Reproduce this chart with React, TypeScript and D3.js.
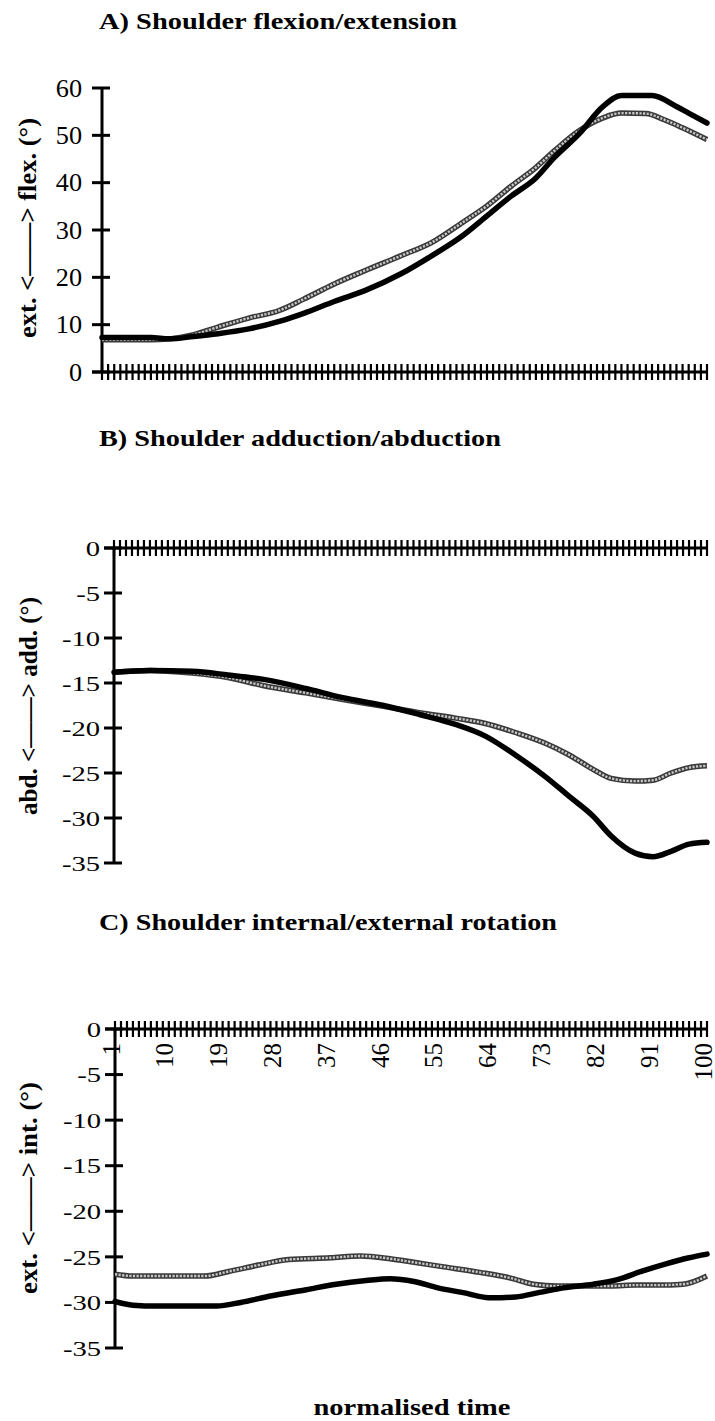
import React from 'react';
import * as d3 from 'd3';

// ---------- DATA ----------
// Panel A: Shoulder flexion/extension
const timeA1 = [1, 9, 12, 16, 20, 25, 30, 34, 39, 44, 50, 55, 60, 64, 68, 72, 75, 79, 83, 86, 91, 95, 97, 100];
const flexBlack = [7.3, 7.3, 7.0, 7.5, 8.1, 9.1, 10.7, 12.4, 14.9, 17.2, 20.8, 24.6, 28.8, 33, 37.2, 41, 45.3, 50.2, 56.1, 58.4, 58.4, 56.1, 54.7, 52.6];
const timeA2 = [1, 9, 12, 16, 20, 25, 30, 34, 39, 44, 50, 55, 60, 64, 68, 72, 75, 79, 83, 86, 90, 93, 96, 100];
const flexGrey = [6.8, 6.8, 7.0, 7.9, 9.5, 11.4, 13, 15.4, 18.6, 21.4, 24.6, 27.4, 31.6, 35.1, 39.3, 43.2, 46.7, 50.9, 53.7, 54.7, 54.6, 53.3, 51.6, 49.1];

// Panel B: Shoulder adduction/abduction
const timeB = [1, 7, 14, 20, 26, 33, 39, 46, 52, 58, 63, 68, 73, 77, 81, 84, 88, 91, 94, 97, 100];
const abdBlack = [-13.8, -13.6, -13.7, -14.1, -14.6, -15.6, -16.6, -17.5, -18.5, -19.6, -20.9, -23, -25.4, -27.6, -29.8, -32, -33.9, -34.3, -33.7, -32.9, -32.7];
const abdGrey = [-13.8, -13.6, -13.9, -14.4, -15.3, -16.1, -16.8, -17.6, -18.3, -18.9, -19.5, -20.5, -21.7, -23, -24.6, -25.6, -25.9, -25.8, -25, -24.4, -24.2];

// Panel C: Shoulder internal/external rotation
const timeC1 = [1, 4, 8, 18, 22, 27, 33, 38, 43, 47, 51, 55, 59, 64, 68, 72, 76, 81, 85, 89, 93, 97, 100];
const rotBlack = [-29.9, -30.3, -30.4, -30.4, -30, -29.3, -28.6, -28, -27.6, -27.4, -27.7, -28.4, -28.9, -29.5, -29.4, -28.9, -28.4, -28, -27.5, -26.6, -25.8, -25.1, -24.7];
const timeC2 = [1, 4, 16, 20, 25, 30, 37, 42, 47, 51, 56, 62, 67, 71, 75, 79, 84, 88, 92, 96, 100];
const rotGrey = [-26.9, -27.1, -27.1, -26.6, -25.9, -25.3, -25.1, -24.9, -25.2, -25.6, -26.1, -26.7, -27.3, -28, -28.2, -28.2, -28.2, -28.1, -28.1, -28, -27.1];

const ticksA = [0, 10, 20, 30, 40, 50, 60];
const ticksBC = [0, -5, -10, -15, -20, -25, -30, -35];
const timeTickLabels = [1, 10, 19, 28, 37, 46, 55, 64, 73, 82, 91, 100];
const categories = d3.range(1, 101);

const titles = ['A) Shoulder flexion/extension', 'B) Shoulder adduction/abduction', 'C) Shoulder internal/external rotation'];
const yTitles = ['ext. <——> flex. (°)', 'abd. <——> add. (°)', 'ext. <——> int. (°)'];
const xTitle = 'normalised time';

const serif = "'Liberation Serif', 'DejaVu Serif', serif";

type PanelCfg = {
  x0: number; x1: number; yTop: number; yBot: number;
  domain: [number, number]; ticks: number[];
  series: { t: number[]; v: number[]; grey: boolean }[];
  title: string; titleY: number; titleLen: number;
  yTitle: string; yTitleX: number; yTitleY: number; yTitleLen: number;
  labelSize: number; labelScale: number; labelGap: number; showTimeLabels: boolean;
};

function Panel({ cfg }: { cfg: PanelCfg }) {
  const x = d3.scalePoint<number>().domain(categories).range([cfg.x0, cfg.x1]);
  const y = d3.scaleLinear().domain(cfg.domain).range([cfg.yBot, cfg.yTop]);
  const line = d3.line<[number, number]>().x(d => x(d[0]) as number).y(d => y(d[1])).curve(d3.curveMonotoneX);
  const y0 = y(0);
  return (
    <g>
      <text x={99} y={cfg.titleY} fontFamily={serif} fontWeight="bold" fontSize={24}
        textLength={cfg.titleLen} lengthAdjust="spacingAndGlyphs">{cfg.title}</text>
      <text transform={`translate(${cfg.yTitleX},${cfg.yTitleY}) scale(1.25,1) rotate(-90)`} textAnchor="middle"
        fontFamily={serif} fontWeight="bold" fontSize={20} textLength={cfg.yTitleLen} lengthAdjust="spacingAndGlyphs">{cfg.yTitle}</text>
      {/* y axis */}
      <line x1={cfg.x0} x2={cfg.x0} y1={y(cfg.domain[1]) - 1} y2={y(cfg.domain[0]) + 1} stroke="#000" strokeWidth={3} />
      {cfg.ticks.map(t => (
        <g key={t}>
          <line x1={cfg.x0 - 10} x2={cfg.x0 + 8} y1={y(t)} y2={y(t)} stroke="#000" strokeWidth={3} />
          <text transform={`translate(${cfg.x0 - cfg.labelGap},${y(t)}) scale(${cfg.labelScale},1)`} dy="0.35em" textAnchor="end"
            fontFamily={serif} fontSize={cfg.labelSize}>{t}</text>
        </g>
      ))}
      {/* x axis at value 0 */}
      <line x1={cfg.x0 - 10} x2={cfg.x1 + 1} y1={y0} y2={y0} stroke="#000" strokeWidth={3} />
      {categories.map(c => (
        <line key={c} x1={x(c)} x2={x(c)} y1={y0 - 8} y2={y0 + 8} stroke="#000" strokeWidth={2.2} />
      ))}
      {cfg.showTimeLabels && timeTickLabels.map(c => (
        <text key={c} transform={`translate(${(x(c) as number) - 3},${y0 + 14}) rotate(-90)`} dy="0.3em" textAnchor="end"
          fontFamily={serif} fontSize={25}>{c}</text>
      ))}
      {cfg.series.map((s, i) => {
        const pts = s.t.map((t, k) => [t, s.v[k]] as [number, number]);
        const d = line(pts) || '';
        return s.grey ? (
          <g key={i}>
            <path d={d} fill="none" stroke="#3a3a3a" strokeWidth={5.5} strokeLinejoin="round" />
            <path d={d} fill="none" stroke="#c8c8c8" strokeWidth={2.4} strokeDasharray="2.2 1.4" />
          </g>
        ) : (
          <path key={i} d={d} fill="none" stroke="#000" strokeWidth={5.5} strokeLinejoin="round" strokeLinecap="round" />
        );
      })}
    </g>
  );
}

export default function App() {
  const panels: PanelCfg[] = [
    {
      x0: 102, x1: 707, yTop: 88, yBot: 372, domain: [0, 60], ticks: ticksA,
      series: [{ t: timeA2, v: flexGrey, grey: true }, { t: timeA1, v: flexBlack, grey: false }],
      title: titles[0], titleY: 29, titleLen: 358,
      yTitle: yTitles[0], yTitleX: 36, yTitleY: 228, yTitleLen: 220,
      labelSize: 25, labelScale: 1.05, labelGap: 20, showTimeLabels: false,
    },
    {
      x0: 114, x1: 707, yTop: 548, yBot: 863, domain: [-35, 0], ticks: ticksBC,
      series: [{ t: timeB, v: abdGrey, grey: true }, { t: timeB, v: abdBlack, grey: false }],
      title: titles[1], titleY: 446, titleLen: 402,
      yTitle: yTitles[1], yTitleX: 37, yTitleY: 706, yTitleLen: 218,
      labelSize: 22, labelScale: 1.3, labelGap: 14, showTimeLabels: false,
    },
    {
      x0: 115, x1: 707, yTop: 1029, yBot: 1348, domain: [-35, 0], ticks: ticksBC,
      series: [{ t: timeC2, v: rotGrey, grey: true }, { t: timeC1, v: rotBlack, grey: false }],
      title: titles[2], titleY: 930, titleLen: 458,
      yTitle: yTitles[2], yTitleX: 37, yTitleY: 1188, yTitleLen: 212,
      labelSize: 22, labelScale: 1.3, labelGap: 14, showTimeLabels: true,
    },
  ];
  return (
    <svg width={715} height={1421} style={{ position: 'absolute', left: 0, top: 0, background: '#fff' }}>
      <rect width={715} height={1421} fill="#fff" />
      {panels.map((p, i) => <Panel key={i} cfg={p} />)}
      <text x={412} y={1415} textAnchor="middle" fontFamily={serif} fontWeight="bold" fontSize={24}
        textLength={197} lengthAdjust="spacingAndGlyphs">{xTitle}</text>
    </svg>
  );
}
